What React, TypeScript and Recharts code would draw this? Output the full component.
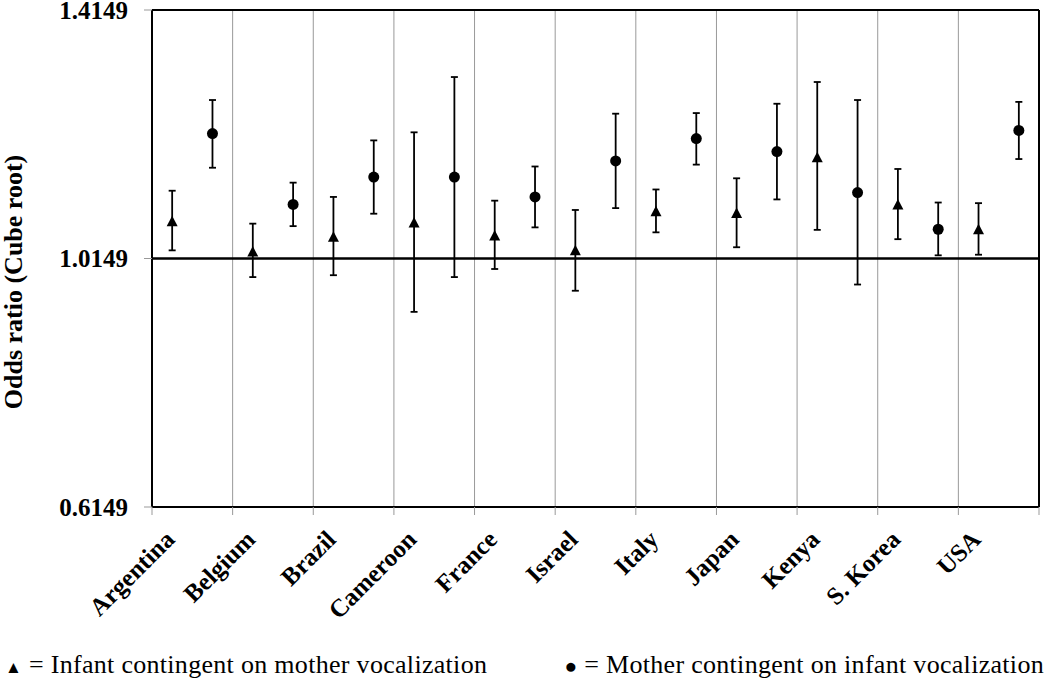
import React from "react";
import {
  ComposedChart,
  Scatter,
  ErrorBar,
  XAxis,
  YAxis,
  CartesianGrid,
  ReferenceLine,
} from "recharts";

const countries = [
  "Argentina",
  "Belgium",
  "Brazil",
  "Cameroon",
  "France",
  "Israel",
  "Italy",
  "Japan",
  "Kenya",
  "S. Korea",
  "USA",
];

// infant contingent on mother vocalization (triangles)
const infantOR = [1.075, 1.026, 1.05, 1.073, 1.052, 1.028, 1.091, 1.088, 1.178, 1.102, 1.062];
const infantLow = [1.028, 0.985, 0.988, 0.929, 0.998, 0.963, 1.057, 1.033, 1.061, 1.046, 1.021];
const infantHigh = [1.124, 1.071, 1.114, 1.218, 1.108, 1.093, 1.126, 1.144, 1.299, 1.159, 1.104];

// mother contingent on infant vocalization (circles)
const motherOR = [1.216, 1.102, 1.146, 1.146, 1.114, 1.172, 1.208, 1.187, 1.121, 1.062, 1.221];
const motherLow = [1.161, 1.067, 1.087, 0.985, 1.065, 1.096, 1.166, 1.11, 0.973, 1.02, 1.175];
const motherHigh = [1.27, 1.137, 1.205, 1.307, 1.163, 1.248, 1.249, 1.264, 1.27, 1.105, 1.267];

const yTicks = [0.6149, 1.0149, 1.4149];
const xTicks = [0, 1, 2, 3, 4, 5, 6, 7, 8, 9, 10, 11];

const FONT = "Liberation Serif, Times New Roman, DejaVu Serif, serif";

const buildSeries = (vals: number[], low: number[], high: number[], offset: number) =>
  vals.map((v, i) => ({
    x: i + offset,
    y: v,
    err: [v - low[i], high[i] - v],
  }));

const infantData = buildSeries(infantOR, infantLow, infantHigh, 0.25);
const motherData = buildSeries(motherOR, motherLow, motherHigh, 0.75);

const Triangle = (props: any) => {
  const { cx, cy } = props;
  return (
    <polygon
      points={`${cx - 5.5},${cy + 5} ${cx + 5.5},${cy + 5} ${cx},${cy - 5.5}`}
      fill="#000"
    />
  );
};

const Dot = (props: any) => {
  const { cx, cy } = props;
  return <circle cx={cx} cy={cy} r={5.5} fill="#000" />;
};

const XTick = (props: any) => {
  const { x, y, payload } = props;
  const label = countries[payload.value] || "";
  const ax = x + 24;
  const ay = y + 26;
  return (
    <text
      x={ax}
      y={ay}
      transform={`rotate(-45, ${ax}, ${ay})`}
      textAnchor="end"
      style={{ fontFamily: FONT, fontWeight: 700, fontSize: 25 }}
      fill="#000"
    >
      {label}
    </text>
  );
};

const legendStyle: React.CSSProperties = {
  position: "absolute",
  top: 652,
  fontFamily: FONT,
  fontSize: 26,
  lineHeight: "26px",
  letterSpacing: 0.3,
  whiteSpace: "nowrap",
  color: "#000",
};

export default function App() {
  return (
    <div style={{ position: "absolute", left: 0, top: 0, width: 1050, height: 680, background: "#fff", fontFamily: FONT }}>
      <ComposedChart
        width={1050}
        height={680}
        margin={{ top: 10, right: 11, left: 0, bottom: 0 }}
      >
        <CartesianGrid horizontal={false} stroke="#999" strokeWidth={1} />
        <XAxis
          type="number"
          dataKey="x"
          domain={[0, 11]}
          ticks={xTicks}
          interval={0}
          allowDataOverflow
          height={173}
          axisLine={{ stroke: "#000", strokeWidth: 2 }}
          tickLine={{ stroke: "#999" }}
          tickSize={8}
          tickMargin={0}
          tick={<XTick />}
        />
        <YAxis
          type="number"
          dataKey="y"
          domain={[0.6149, 1.4149]}
          ticks={yTicks}
          interval={0}
          allowDataOverflow
          width={152}
          axisLine={{ stroke: "#000", strokeWidth: 2 }}
          tickLine={{ stroke: "#999" }}
          tickSize={8}
          tickMargin={16}
          tickFormatter={(v: number) => v.toFixed(4)}
          tick={{ style: { fontFamily: FONT, fontWeight: 700, fontSize: 25 }, fill: "#000" }}
          label={{
            content: () => (
              <text
                x={22}
                y={282}
                transform="rotate(-90, 22, 282)"
                textAnchor="middle"
                style={{ fontFamily: FONT, fontWeight: 700, fontSize: 26 }}
                fill="#000"
              >
                Odds ratio (Cube root)
              </text>
            ),
          }}
        />
        <ReferenceLine y={1.4149} stroke="#000" strokeWidth={2} />
        <ReferenceLine x={11} stroke="#000" strokeWidth={2} />
        <ReferenceLine y={1.0149} stroke="#000" strokeWidth={2.5} />
        <Scatter data={infantData} shape={Triangle} isAnimationActive={false}>
          <ErrorBar dataKey="err" direction="y" width={3.5} stroke="#000" strokeWidth={1.8} />
        </Scatter>
        <Scatter data={motherData} shape={Dot} isAnimationActive={false}>
          <ErrorBar dataKey="err" direction="y" width={3.5} stroke="#000" strokeWidth={1.8} />
        </Scatter>
      </ComposedChart>
      <div style={{ ...legendStyle, left: 5 }}>
        <span style={{ fontSize: 17 }}>▲</span> = Infant contingent on mother vocalization
      </div>
      <div style={{ ...legendStyle, right: 6 }}>
        <span style={{ fontSize: 21 }}>●</span> = Mother contingent on infant vocalization
      </div>
    </div>
  );
}
